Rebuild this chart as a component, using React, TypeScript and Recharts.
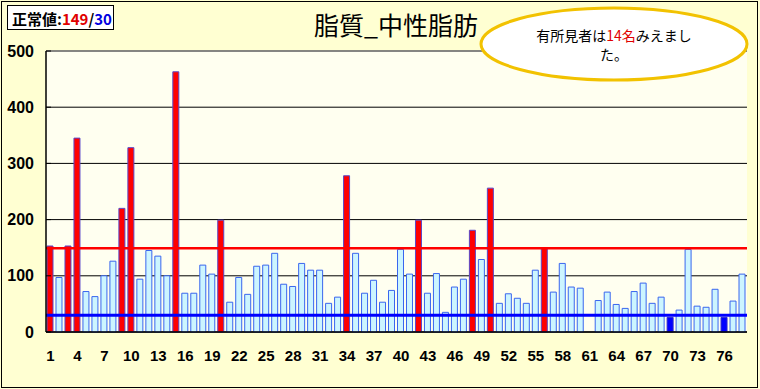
import React from 'react'
import {
    BarChart,
    Bar,
    XAxis,
    YAxis,
    CartesianGrid,
    ReferenceLine,
    Cell,
} from 'recharts'

// 中性脂肪 (mg/dL) per person, index 61 has no value
const tgValues: (number | null)[] = [
    153, 97, 153, 345, 72, 63, 100, 126, 220, 328,
    94, 145, 135, 100, 463, 69, 69, 119, 103, 199,
    53, 97, 67, 117, 119, 140, 85, 81, 122, 110,
    110, 51, 62, 278, 140, 69, 92, 53, 74, 147,
    103, 199, 69, 104, 35, 80, 94, 181, 129, 256,
    51, 68, 60, 51, 110, 150, 71, 122, 80, 78,
    null, 56, 71, 49, 42, 72, 87, 51, 62, 26,
    39, 147, 46, 44, 76, 26, 55, 103,
]
const personLabels = tgValues.map((_, i) => String(i + 1))
const yTicks = [0, 100, 200, 300, 400, 500]
const upperLimit = 149
const lowerLimit = 30
const boundaryTicks = tgValues.slice(1).map((_, i) => i + 1)

const data = personLabels.map((label, i) => ({ label, tg: tgValues[i] }))

function barColors(v: number | null) {
    if (v == null) return { fill: 'none', stroke: 'none' }
    if (v > upperLimit) return { fill: '#ff0000', stroke: '#5a48c8' }
    if (v < lowerLimit) return { fill: '#0000ff', stroke: '#2a2ad0' }
    return { fill: '#ccf5ff', stroke: '#3a66ee' }
}

export default function App() {
    return (
        <div style={{ position: 'relative', width: 760, height: 389, background: '#ffffd2', fontFamily: 'Arial, "Liberation Sans", sans-serif' }}>
            <style>{'body{margin:0}'}</style>
            <div style={{ position: 'absolute', left: 1, top: 1, width: 755, height: 385, border: '1.5px solid #000', pointerEvents: 'none', zIndex: 3 }} />
            <BarChart
                width={760}
                height={389}
                data={data}
                margin={{ top: 51, right: 13, bottom: 0, left: 0 }}
                barCategoryGap={0}
            >
                <CartesianGrid vertical={false} stroke="#000" strokeWidth={1} fill="#fffff0" fillOpacity={1} />
                <XAxis
                    xAxisId="b"
                    type="number"
                    domain={[0, tgValues.length]}
                    ticks={boundaryTicks}
                    allowDataOverflow
                    height={0}
                    tick={false}
                    axisLine={false}
                    tickLine={{ stroke: '#000' }}
                    tickSize={-4}
                />
                <XAxis
                    dataKey="label"
                    interval={2}
                    height={57}
                    tickLine={false}
                    tickMargin={12}
                    axisLine={{ stroke: '#000', strokeWidth: 1.5 }}
                    tick={{ fill: '#000', fontSize: 15, fontWeight: 'bold' }}
                />
                <YAxis
                    domain={[0, 500]}
                    ticks={yTicks}
                    width={46}
                    tickSize={-5}
                    tickMargin={17}
                    axisLine={{ stroke: '#000', strokeWidth: 1.5 }}
                    tickLine={{ stroke: '#000' }}
                    tick={{ fill: '#000', fontSize: 16, fontWeight: 'bold' }}
                />
                <ReferenceLine y={500} stroke="#888" strokeWidth={1.5} />
                <ReferenceLine x={tgValues.length} xAxisId="b" stroke="#888" strokeWidth={1.5} />
                <Bar dataKey="tg" barSize={6} isAnimationActive={false}>
                    {data.map((d, i) => {
                        const c = barColors(d.tg)
                        return <Cell key={`c-${i}`} fill={c.fill} stroke={c.stroke} strokeWidth={1} />
                    })}
                </Bar>
                <ReferenceLine y={upperLimit} stroke="#ff0000" strokeWidth={2.5} />
                <ReferenceLine y={lowerLimit} stroke="#0000ff" strokeWidth={3} />
            </BarChart>

            {/* 正常値 box */}
            <div style={{
                position: 'absolute', left: 7, top: 5, width: 107, height: 25,
                border: '1px solid #000', background: '#fff', overflow: 'hidden',
                fontFamily: '"Noto Sans CJK JP", sans-serif', fontSize: 15, fontWeight: 'bold',
                lineHeight: '25px', paddingLeft: 4, boxSizing: 'border-box', whiteSpace: 'nowrap',
            }}>
                <span style={{ color: '#000' }}>正常値:</span>
                <span style={{ color: '#e00000' }}>149</span>
                <span style={{ color: '#000' }}>/</span>
                <span style={{ color: '#0000e0' }}>30</span>
            </div>

            {/* title */}
            <div style={{
                position: 'absolute', left: 296, top: 9, width: 200, textAlign: 'center',
                fontFamily: '"Noto Sans CJK JP", sans-serif', fontSize: 25, lineHeight: '30px', color: '#000',
            }}>
                脂質_中性脂肪
            </div>

            {/* callout ellipse */}
            <svg width={760} height={389} style={{ position: 'absolute', left: 0, top: 0, pointerEvents: 'none' }}>
                <ellipse cx={614} cy={44} rx={133} ry={36} fill="#fff" stroke="#f2c200" strokeWidth={3} />
            </svg>
            <div style={{
                position: 'absolute', left: 514, top: 26, width: 200, textAlign: 'center',
                fontFamily: '"Noto Sans CJK JP", sans-serif', fontSize: 14, lineHeight: '19px', color: '#000',
            }}>
                有所見者は<span style={{ color: '#e00000' }}>14名</span>みえまし<br />た。
            </div>
        </div>
    )
}
